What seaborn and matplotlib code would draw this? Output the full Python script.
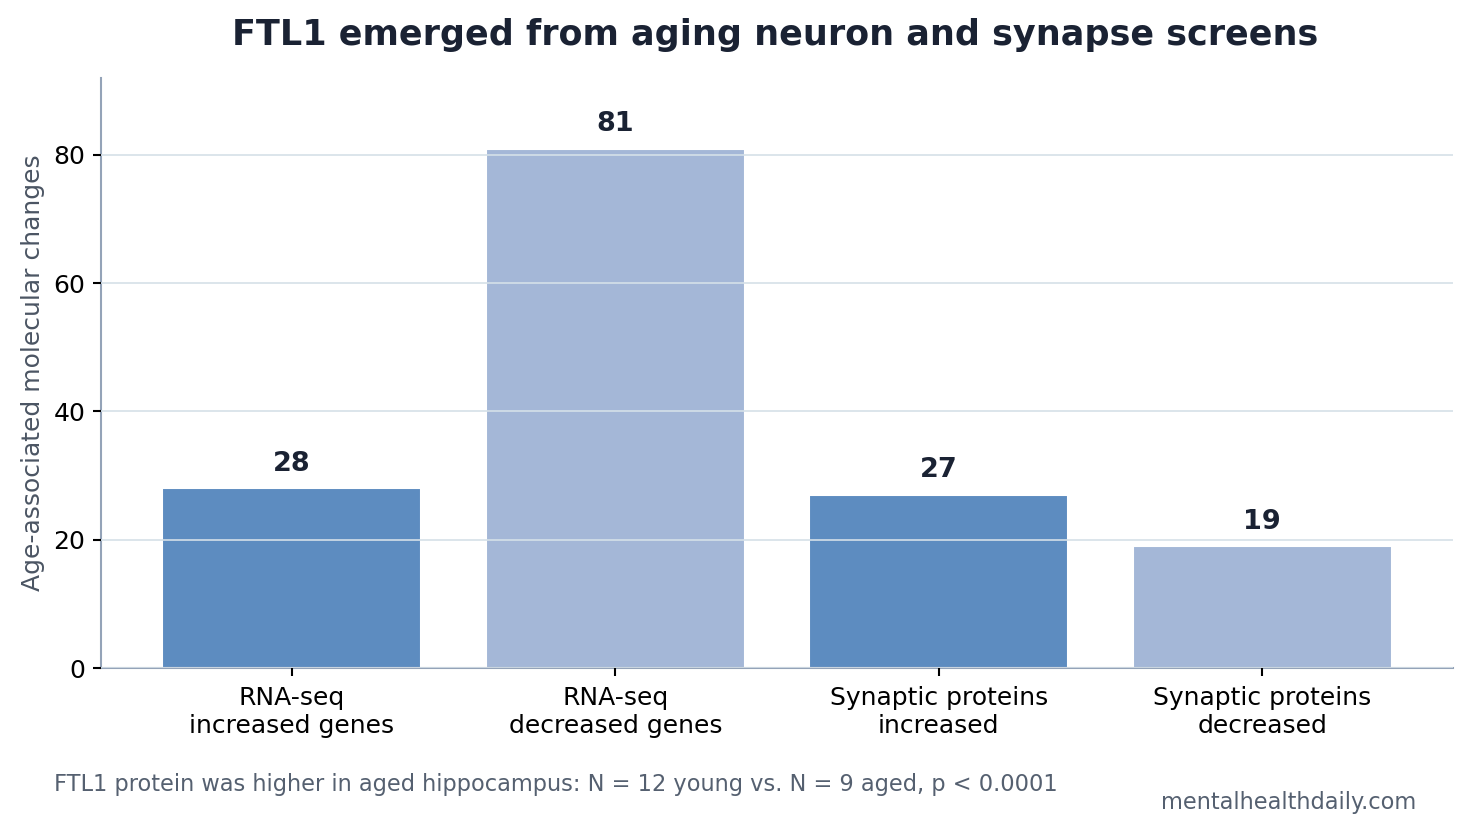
import numpy as np
import pandas as pd
import matplotlib.pyplot as plt
import seaborn as sns

categories = [
    "RNA-seq\nincreased genes",
    "RNA-seq\ndecreased genes",
    "Synaptic proteins\nincreased",
    "Synaptic proteins\ndecreased",
]
counts = [28, 81, 27, 19]
bar_colors = ["#5d8cc0", "#a4b7d7", "#5d8cc0", "#a4b7d7"]

title = "FTL1 emerged from aging neuron and synapse screens"
y_label = "Age-associated molecular changes"
footnote = "FTL1 protein was higher in aged hippocampus: N = 12 young vs. N = 9 aged, p < 0.0001"
watermark = "mentalhealthdaily.com"

df = pd.DataFrame({"category": categories, "count": counts})

sns.set_style("white")
plt.rcParams["font.family"] = ["DejaVu Sans"]

fig = plt.figure(figsize=(9.8, 832 / 150), dpi=150)
ax = fig.add_axes([101 / 1470, 1 - 668 / 832, (1453 - 101) / 1470, (668 - 78) / 832])

sns.barplot(
    data=df,
    x="category",
    y="count",
    hue="category",
    palette=bar_colors,
    legend=False,
    width=0.8,
    saturation=1,
    ax=ax,
)

# value labels above each bar
for i, v in enumerate(counts):
    ax.text(i, v + 1.8, str(v), ha="center", va="bottom",
            fontsize=13, fontweight="bold", color="#1a2233")

ax.set_xlim(-0.59, 3.59)
ax.set_ylim(0, 92)
ax.set_yticks([0, 20, 40, 60, 80])
ax.yaxis.grid(True, color="#d5e0e8", linewidth=0.8)
ax.set_axisbelow(False)
for line in ax.get_ygridlines():
    line.set_zorder(3)

ax.set_xlabel("")
ax.set_ylabel(y_label, fontsize=12, color="#4b5563")
ax.tick_params(axis="both", labelsize=12, colors="black", length=4, width=1,
               bottom=True, left=True)
ax.tick_params(axis="x", pad=4.5)

sns.despine(ax=ax)
for side in ["left", "bottom"]:
    ax.spines[side].set_color("#94a3b8")
    ax.spines[side].set_linewidth(1)

fig.suptitle(title, x=0.527, y=1 - 35 / 832, va="center",
             fontsize=16.8, fontweight="bold", color="#1a2233")
fig.text(54 / 1470, 1 - 785 / 832, footnote, fontsize=10.8,
         color="#556070", va="center", ha="left")
fig.text(1416 / 1470, 1 - 802 / 832, watermark, fontsize=10.8,
         color="#556070", va="center", ha="right")

fig.savefig("out.png", dpi=150)
